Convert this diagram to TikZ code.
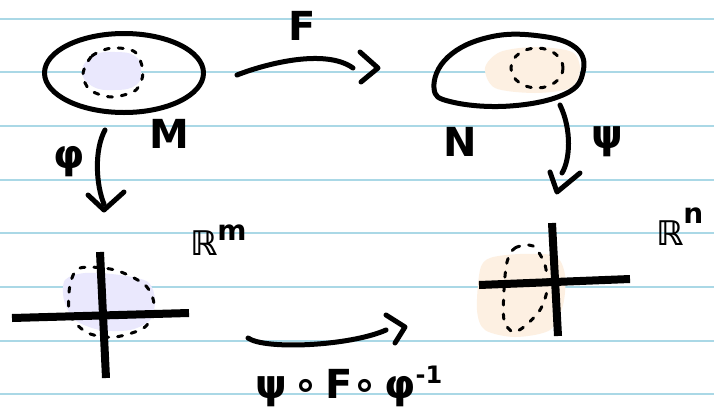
\documentclass[tikz,border=0pt]{standalone}
\usepackage{fontspec}
\setmainfont{DejaVu Sans}
\usetikzlibrary{shapes.geometric}
\definecolor{ruleblue}{RGB}{170,216,230}
\definecolor{lav}{RGB}{234,232,253}
\definecolor{peach}{RGB}{253,240,226}
\begin{document}
\begin{tikzpicture}[x=1pt,y=-1pt,
  ink/.style={line width=5pt, line cap=round, line join=round},
  axisline/.style={line width=8pt},
  dashline/.style={line width=3pt, line cap=round, dash pattern=on 5pt off 9pt},
  lbl/.style={font=\bfseries\fontsize{40}{40}\selectfont, inner sep=0pt},
  sup/.style={font=\bfseries\fontsize{34}{34}\selectfont, inner sep=0pt, anchor=base west}
]
\useasboundingbox (0,0) rectangle (714,410);
\fill[white] (0,0) rectangle (714,410);
% ruled paper
\foreach \yy in {19,72,126,180,233,287,341,394}
  \draw[ruleblue, line width=1.5pt] (0,\yy) -- (714,\yy);

% ---- manifold M ----
\fill[lav] plot[smooth cycle, tension=0.8] coordinates {(82,70) (95,55) (115,52) (135,56) (141,70) (136,85) (115,90) (92,86)};
\draw[dashline] plot[smooth cycle] coordinates {(83,74) (92,56) (112,48) (135,52) (143,72) (136,90) (112,97) (90,90)};
\node[draw, ellipse, ink, minimum width=159pt, minimum height=79pt] (M) at (124,73) {};

% ---- manifold N ----
\fill[peach] plot[smooth cycle] coordinates {(485,68) (500,52) (535,47) (572,52) (580,70) (570,88) (535,93) (495,88)};
\draw[dashline] (537,68) ellipse [x radius=26, y radius=20];
\coordinate (N) at (508,71);
\draw[ink] plot[smooth cycle, tension=0.7] coordinates {(434,88) (448,57) (490,37) (540,36) (576,48) (583,72) (565,94) (510,106) (452,102)};

% ---- R^m chart ----
\fill[lav] plot[smooth cycle] coordinates {(65,280) (85,273) (120,275) (148,282) (155,300) (150,320) (130,330) (100,330) (75,320) (64,300)};
\draw[dashline] plot[smooth cycle] coordinates {(70,285) (80,268) (115,270) (145,285) (154,305) (145,327) (115,337) (88,333) (70,315)};
\coordinate (LH1) at (12,318);
\coordinate (LH2) at (189,313);
\coordinate (LV1) at (100,252);
\coordinate (LV2) at (106,378);
\draw[axisline] (LH1) -- (LH2);
\draw[axisline] (LV1) -- (LV2);

% ---- R^n chart ----
\fill[peach] plot[smooth cycle] coordinates {(480,270) (490,258) (520,254) (555,256) (565,275) (563,305) (550,330) (515,337) (485,330) (477,310)};
\draw[dashline] plot[smooth cycle] coordinates {(507,262) (515,248) (533,246) (545,265) (547,290) (540,310) (525,326) (513,332) (504,320) (504,290)};
\coordinate (RH1) at (479,285);
\coordinate (RH2) at (630,279);
\coordinate (RV1) at (552,223);
\coordinate (RV2) at (558,336);
\draw[axisline] (RH1) -- (RH2);
\draw[axisline] (RV1) -- (RV2);

% ---- arrows ----
% F
\coordinate (Fs) at (237,75);
\coordinate (Fe) at (353,68);
\coordinate (Ft) at (378,68);
\draw[ink] (Fs) .. controls (265,64) and (325,48) .. (Fe);
\draw[ink] (360,52) -- (Ft) -- (361,82);
% phi
\coordinate (Ps) at (105,130);
\coordinate (Pe) at (104,204);
\coordinate (Pt) at (104,210);
\draw[ink] (Ps) .. controls (94,150) and (96,185) .. (Pe);
\draw[ink] (88,195) -- (Pt) -- (124,192);
% psi
\coordinate (Qs) at (560,105);
\coordinate (Qe) at (562,173);
\coordinate (Qt) at (557,192);
\draw[ink] (Qs) .. controls (572,130) and (570,160) .. (Qe);
\draw[ink] (550,172) -- (Qt) -- (580,173);
% composite
\coordinate (Cs) at (248,338);
\coordinate (Ce) at (386,330);
\coordinate (Ct) at (405,327);
\draw[ink] (Cs) .. controls (265,350) and (350,346) .. (Ce);
\draw[ink] (386,315) -- (Ct) -- (395,343);

% ---- labels ----
\node[lbl] (Flab) at (302,26) {F};
\node[lbl] (Mlab) at (169,134) {M};
\node[lbl] (Nlab) at (460,142) {N};
\node[lbl] (philab) at (69,162) {φ};
\node[lbl] (psilab) at (607,142) {ψ};
\node[sup] (Rm) at (190,255) {ℝ\raisebox{15pt}{\fontsize{28}{28}\selectfont m}};
\node[sup] (Rn) at (656,245) {ℝ\raisebox{22pt}{\fontsize{28}{28}\selectfont n}};
\node[lbl, anchor=base west] (comp) at (255,398) {ψ\,∘\,F∘\,φ\raisebox{15pt}{\fontsize{24}{24}\selectfont -1}};
\end{tikzpicture}
\end{document}
